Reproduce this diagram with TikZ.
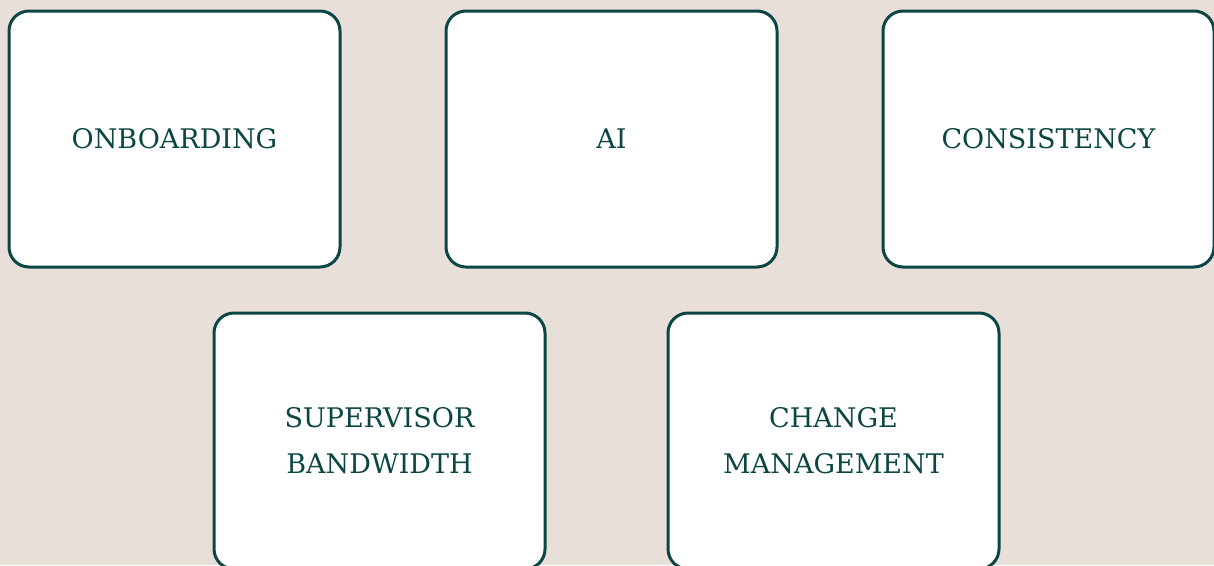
\documentclass[tikz,border=0pt]{standalone}
\usepackage{fontspec}
\setmainfont{DejaVu Serif}
\definecolor{paper}{HTML}{E8E0D8}
\definecolor{teal}{HTML}{0B4645}

\begin{document}
\begin{tikzpicture}[x=1pt,y=-1pt,
			topic node/.style={rectangle,draw=teal,line width=3pt,fill=white,rounded corners=20pt,
				minimum width=331pt,minimum height=256pt,align=center,text=teal,
				font=\fontsize{27}{46}\selectfont}
			]
			
			\def \w {1214};
			\def \h {565};
			
			\fill[paper] (0,0) rectangle (\w,\h);
			\useasboundingbox (0,0) rectangle (\w,\h);
			
			\node[topic node] (onboarding) at (174.5,139) {ONBOARDING};
			\node[topic node] (ai) at (611.5,139) {AI};
			\node[topic node] (consistency) at (1048.5,139) {CONSISTENCY};
			\node[topic node] (bandwidth) at (379.5,441) {SUPERVISOR\\BANDWIDTH};
			\node[topic node] (change) at (833.5,441) {CHANGE\\MANAGEMENT};
			
			\end{tikzpicture}
\end{document}
